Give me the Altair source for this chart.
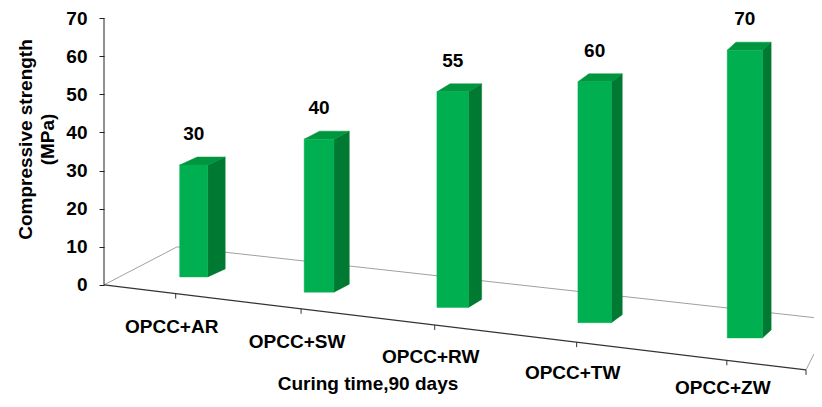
import altair as alt
import pandas as pd

# ---- data ----
categories = ["OPCC+AR", "OPCC+SW", "OPCC+RW", "OPCC+TW", "OPCC+ZW"]
strength = [30, 40, 55, 60, 70]
y_ticks = [0, 10, 20, 30, 40, 50, 60, 70]
x_title = "Curing time,90 days"
y_title = ["Compressive strength", "(MPa)"]

# ---- style / projection constants ----
FONT = "Liberation Sans"
FRONT, TOPC, SIDE = "#00b050", "#00953f", "#007a33"
W, H = 710, 379
X0, X1 = -0.591, 4.562
Y0, Y1 = -29.4, 70
PX = W / (X1 - X0)   # px per x unit
PY = H / (Y1 - Y0)   # px per y unit

bars, faces, ticks = [], [], []
FRONT_SLOPE = -22.29 / (4.504 - X0)


def front_y(x):
    return (x - X0) * FRONT_SLOPE


for i, (cat, val) in enumerate(zip(categories, strength)):
    t = i - 2
    xc = i + 0.03 * (t * t - 2)          # perspective spacing
    depth = 0.978 + 0.025 * i            # perspective magnification
    base = 2.1 - 4.0 * i                 # bars stand deeper on a tilted floor
    top = base + val * depth
    half = (28 + 1.8 * i) / 2 / PX
    dx = (17.5 - 2.2 * i) / PX
    dy = 8 / PY
    xl, xr = xc - half, xc + half
    bars.append(dict(cat=cat, value=val, xc=xc, xl=xl, xr=xr, base=base, top=top))
    for x, lo, hi in [(xr, base, top), (xr + dx, base + dy, top + dy)]:
        faces.append(dict(key=f"{cat}-side", face="side", x=x, lo=lo, hi=hi))
    for x, lo, hi in [(xl, top, top), (xl + dx, top, top + dy),
                      (xr, top, top + dy), (xr + dx, top + dy, top + dy)]:
        faces.append(dict(key=f"{cat}-top", face="top", x=x, lo=lo, hi=hi))
    tx = xc - 18 / PX
    ticks.append(dict(x=tx, y=front_y(tx), y2=front_y(tx) - 5 / PY))

DX = 4.504
ticks.append(dict(x=DX, y=front_y(DX), y2=front_y(DX) - 5 / PY))

bars_df = pd.DataFrame(bars)
faces_df = pd.DataFrame(faces)
ticks_df = pd.DataFrame(ticks)
floor_front = pd.DataFrame([dict(x=X0, y=0.0, x2=DX, y2=front_y(DX))])
floor_back = pd.DataFrame([
    dict(x=X0, y=0.0, x2=-0.061, y2=9.97),
    dict(x=-0.061, y=9.97, x2=X1, y2=-8.58),
    dict(x=DX, y=front_y(DX), x2=X1, y2=-18.1),
])
axis_line = pd.DataFrame([dict(x=X0, y=0, y2=70)])

xs = alt.Scale(domain=[X0, X1], nice=False, zero=False)
ys = alt.Scale(domain=[Y0, Y1], nice=False, zero=False)

y_axis = alt.Axis(
    values=y_ticks, domain=False, grid=False, tickSize=5, tickColor="#222222",
    labelFont=FONT, labelFontSize=19, labelFontWeight="bold", labelColor="black",
    labelPadding=12, title=y_title, titleFont=FONT, titleFontSize=19,
    titleFontWeight="bold", titleColor="black", titleY=121, titleLineHeight=22,
    titlePadding=8)


def X(f):
    return alt.X(f, type="quantitative", scale=xs, axis=None)


def Y(f):
    return alt.Y(f, type="quantitative", scale=ys, axis=y_axis)


back_lines = alt.Chart(floor_back).mark_rule(color="#a0a0a0", strokeWidth=1).encode(
    x=X("x"), x2="x2", y=Y("y"), y2="y2")
front_line = alt.Chart(floor_front).mark_rule(color="#333333", strokeWidth=1.3).encode(
    x=X("x"), x2="x2", y=Y("y"), y2="y2")
tick_marks = alt.Chart(ticks_df).mark_rule(color="#333333", strokeWidth=1).encode(
    x=X("x"), y=Y("y"), y2="y2")
yline = alt.Chart(axis_line).mark_rule(color="#222222", strokeWidth=1).encode(
    x=X("x"), y=Y("y"), y2="y2")

side = alt.Chart(faces_df).transform_filter(alt.datum.face == "side").mark_area(
    color=SIDE, opacity=1, stroke=SIDE, strokeWidth=0.5).encode(
    x=X("x"), y=Y("hi"), y2="lo", detail="key:N")
topf = alt.Chart(faces_df).transform_filter(alt.datum.face == "top").mark_area(
    color=TOPC, opacity=1, stroke=TOPC, strokeWidth=0.5).encode(
    x=X("x"), y=Y("hi"), y2="lo", detail="key:N")

front = alt.Chart(bars_df).mark_bar(color=FRONT, stroke=FRONT, strokeWidth=0.5).encode(
    x=X("xl"), x2="xr", y=Y("top"), y2="base:Q")

value_labels = alt.Chart(bars_df).mark_text(
    font=FONT, fontSize=19, fontWeight="bold", color="black", dy=-31, baseline="middle"
).encode(x=X("xc"), y=Y("top"), text="value:Q")

cat_labels = alt.Chart(bars_df).mark_text(
    font=FONT, fontSize=19, fontWeight="bold", color="black", dx=-22, dy=50, baseline="middle"
).encode(x=X("xc"), y=Y("base"), text="cat:N")

xtitle = alt.Chart(pd.DataFrame({"t": [x_title]})).mark_text(
    font=FONT, fontSize=19, fontWeight="bold", color="black", baseline="middle"
).encode(x=alt.value(264), y=alt.value(366), text="t:N")

chart = alt.layer(
    back_lines, front_line, tick_marks, yline, side, topf, front,
    value_labels, cat_labels, xtitle
).properties(
    width=W, height=H,
    padding={"left": 96, "top": 10, "right": 0, "bottom": 2},
    autosize=alt.AutoSizeParams(type="none"),
).configure_view(stroke=None)

chart.save("out.html", embed_options={"renderer": "svg", "actions": False})
